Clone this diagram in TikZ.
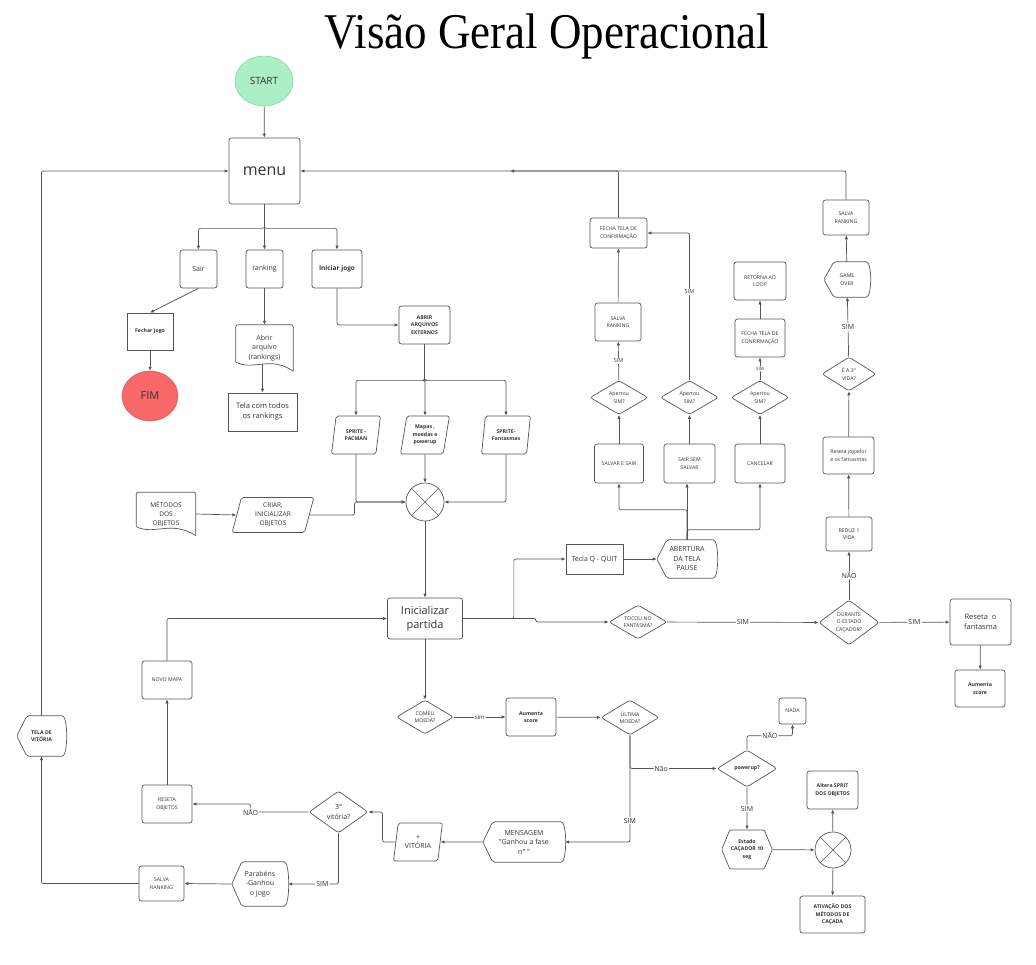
\documentclass[tikz,border=0pt]{standalone}
\usepackage{fontspec}
\setmainfont{Open Sans}
\newfontfamily\titlefont{Liberation Serif}
\usetikzlibrary{shapes.geometric,shapes.symbols,arrows.meta,calc}
\definecolor{linec}{HTML}{555555}
\definecolor{txt}{HTML}{333333}
\definecolor{startfill}{HTML}{ABEFC6}
\definecolor{startline}{HTML}{5DD68F}
\definecolor{fimfill}{HTML}{F96868}
\definecolor{fimline}{HTML}{D94C4C}
% outlines for the document and display symbols
\newcommand\docshape[1]{%
  \draw[line,rounded corners=2pt] ([yshift=9pt]#1.south west) -- (#1.north west) -- (#1.north east) -- (#1.south east);
  \draw[line] (#1.south east) .. controls ([yshift=16pt]$(#1.south east)!0.4!(#1.south west)$) and ([yshift=0pt]$(#1.south east)!0.7!(#1.south west)$) .. ([yshift=9pt]#1.south west);}
\newcommand\dispshape[1]{%
  \draw[line] (#1.west) -- ([xshift=10pt]#1.north west) -- ([xshift=-6pt]#1.north east)
  .. controls ([xshift=2pt]#1.north east) and ([xshift=2pt]#1.south east) .. ([xshift=-6pt]#1.south east)
  -- ([xshift=10pt]#1.south west) -- cycle;}
\begin{document}
\begin{tikzpicture}[x=1pt,y=-1pt,
  line/.style={draw=linec,line width=0.7pt,rounded corners=2pt},
  arr/.style={line,-{Latex[length=4pt,width=3.4pt]}},
  box/.style={draw=linec,line width=0.7pt,rounded corners=2.5pt,align=center,text=txt,inner sep=1pt},
  sbox/.style={box,rounded corners=0pt},
  dia/.style={box,diamond,aspect=1.7,inner sep=0pt},
  para/.style={box,trapezium,trapezium left angle=78,trapezium right angle=102,trapezium stretches=true,rounded corners=2pt},
  disp/.style={align=center,text=txt,inner sep=1pt},
  junction/.style={circle,draw=linec,line width=0.7pt,minimum size=38pt,
    path picture={\draw[linec,line width=0.6pt] (path picture bounding box.north west) -- (path picture bounding box.south east)
      (path picture bounding box.north east) -- (path picture bounding box.south west);}},
  tiny/.style={font=\fontsize{5.2}{7.5}\selectfont},
  tinyb/.style={font=\fontsize{5.2}{7.5}\selectfont\bfseries},
  mid/.style={font=\fontsize{7}{9.5}\selectfont},
  lab/.style={fill=white,inner sep=1pt,text=txt,font=\fontsize{7}{8}\selectfont},
  slab/.style={lab,font=\fontsize{5.5}{6}\selectfont}]
  \useasboundingbox (0,0) rectangle (1036,964);

  \node[anchor=base,xscale=0.9,font=\titlefont\fontsize{50}{56}\selectfont] (title) at (547,48) {Visão Geral Operacional};

  % menu
  \node[ellipse,draw=startline,fill=startfill,minimum width=58pt,minimum height=50pt,text=txt,font=\fontsize{10}{12}\selectfont] (start) at (264,81) {START};
  \node[box,minimum width=71pt,minimum height=66pt,font=\fontsize{16}{18}\selectfont] (menu) at (264.5,171) {menu};
  \node[box,mid,minimum width=37pt,minimum height=38pt] (sair) at (198.5,269) {Sair};
  \node[box,mid,minimum width=37pt,minimum height=38pt] (ranking) at (264.5,269) {ranking};
  \node[box,minimum width=50pt,minimum height=38pt,font=\fontsize{6.5}{8}\selectfont\bfseries] (iniciar) at (337,269) {Iniciar jogo};
  \node[sbox,tinyb,minimum width=46pt,minimum height=37pt] (fechar) at (150,331.5) {Fechar jogo};
  \node[ellipse,draw=fimline,fill=fimfill,minimum width=56pt,minimum height=50pt,text=txt,font=\fontsize{11}{13}\selectfont] (fim) at (150,396) {FIM};
  \node[disp,mid,minimum width=57pt,minimum height=46pt,yshift=2pt] (abrirarq) at (264.5,350) {Abrir\\arquivo\\(rankings)};
  \docshape{abrirarq}
  \node[sbox,font=\fontsize{7.5}{10}\selectfont,minimum width=69pt,minimum height=38pt] (tela) at (262.5,412) {Tela com todos\\os rankings};

  % arquivos externos
  \node[box,tinyb,minimum width=51pt,minimum height=38pt] (abrirext) at (424.5,325) {ABRIR\\ARQUIVOS\\EXTERNOS};
  \node[para,tinyb,minimum width=49pt,minimum height=38pt] (sppac) at (356,435) {SPRITE -\\PACMAN};
  \node[para,tinyb,minimum width=49pt,minimum height=38pt] (spmap) at (425,435) {Mapas ,\\moedas e\\powerup};
  \node[para,tinyb,minimum width=49pt,minimum height=38pt] (spfan) at (506,435) {SPRITE-\\Fantasmas};
  \node[junction] (junc) at (425,502) {};
  \node[disp,font=\fontsize{6.5}{9}\selectfont,minimum width=59pt,minimum height=43pt] (metodos) at (166,514) {MÉTODOS\\DOS\\OBJETOS};
  \docshape{metodos}
  \node[para,font=\fontsize{6.5}{9}\selectfont,minimum width=82pt,minimum height=35pt] (criar) at (273,515) {CRIAR,\\INICIALIZAR\\OBJETOS};
  \node[box,minimum width=75pt,minimum height=41pt,font=\fontsize{11}{14}\selectfont] (inicio) at (425,618.5) {Inicializar\\partida};

  % pausa
  \node[sbox,mid,minimum width=57pt,minimum height=30pt] (teclaq) at (594.5,559) {Tecla Q - QUIT};
  \node[disp,mid,minimum width=60pt,minimum height=38pt] (pausa) at (687,559) {ABERTURA\\DA TELA\\PAUSE};
  \dispshape{pausa}
  \node[box,tiny,minimum width=49pt,minimum height=39pt] (salvarsair) at (619,463.5) {SALVAR E SAIR};
  \node[box,tiny,minimum width=51pt,minimum height=39pt] (sairsem) at (689.5,463.5) {SAIR SEM\\SALVAR};
  \node[box,tiny,minimum width=50pt,minimum height=39pt] (cancelar) at (760,463.5) {CANCELAR};
  \foreach \n/\x in {ap1/619,ap2/689.5,ap3/760}
    \node[dia,tiny,minimum width=58pt,minimum height=34pt] (\n) at (\x,397.5) {Apertou\\SIM?};
  \node[box,tiny,minimum width=46pt,minimum height=38pt] (salvar1) at (618,322) {SALVA\\RANKING};
  \node[box,tiny,minimum width=57pt,minimum height=30pt] (fecha1) at (618.5,233) {FECHA TELA DE\\CONFIRMAÇÃO};
  \node[box,tiny,minimum width=50pt,minimum height=38pt] (fecha2) at (760,338) {FECHA TELA DE\\CONFIRMAÇÃO};
  \node[box,tiny,minimum width=52pt,minimum height=38pt] (retorna) at (760,281) {RETORNA AO\\LOOP};

  % fantasma
  \node[dia,tiny,minimum width=58pt,minimum height=34pt] (tocou) at (638,622) {TOCOU NO\\FANTASMA?};
  \node[dia,tiny,minimum width=60pt,minimum height=45pt] (durante) at (849,622.5) {DURANTE\\O ESTADO\\CAÇADOR?};
  \node[box,font=\fontsize{7.5}{10}\selectfont,minimum width=61pt,minimum height=46pt] (resetaf) at (980.5,622) {Reseta~ o\\fantasma};
  \node[box,tinyb,minimum width=50pt,minimum height=37pt] (aumenta1) at (980,688.5) {Aumenta\\score};
  \node[box,tiny,minimum width=46pt,minimum height=34pt] (reduz) at (849,534) {REDUZ 1\\VIDA};
  \node[box,tiny,minimum width=51pt,minimum height=37pt] (resetaj) at (848.5,455.5) {Reseta jogador\\e os fantasmas};
  \node[dia,tiny,minimum width=54pt,minimum height=34pt] (terceira) at (849,374) {É A 3°\\VIDA?};
  \node[disp,tiny,minimum width=46pt,minimum height=35pt] (gameover) at (847,279.5) {GAME\\OVER};
  \dispshape{gameover}
  \node[box,tiny,minimum width=46pt,minimum height=35pt] (salvar2) at (846,217.5) {SALVA\\RANKING};
  \coordinate (rankret) at (510,171);

  % moedas
  \node[dia,tiny,minimum width=57pt,minimum height=34pt] (comeu) at (425,717) {COMEU\\MOEDA?};
  \node[box,tinyb,minimum width=50pt,minimum height=38pt] (aumenta2) at (531,717) {Aumenta\\score};
  \node[dia,tiny,minimum width=58pt,minimum height=35pt] (ultima) at (630,717.5) {ÚLTIMA\\MOEDA?};
  \node[dia,tinyb,minimum width=60pt,minimum height=37pt] (powerup) at (747,768.5) {powerup?};
  \node[box,tiny,minimum width=27pt,minimum height=26pt] (nada) at (792.5,711) {NADA};
  \node[box,tinyb,signal,signal to=west and east,signal pointer angle=135,rounded corners=1pt,minimum width=50pt,minimum height=39pt] (estado) at (747,849.5) {Estado\\CAÇADOR 10\\seg};
  \node[junction,minimum size=36pt] (junc2) at (833,850) {};
  \node[box,tinyb,minimum width=51pt,minimum height=38pt] (altera) at (832.5,790) {Altera SPRIT\\DOS OBJETOS};
  \node[box,tinyb,minimum width=65pt,minimum height=37pt] (ativa) at (832.5,914.5) {ATIVAÇÃO DOS\\MÉTODOS DE\\CAÇADA};

  % vitoria
  \node[disp,mid,minimum width=82pt,minimum height=40pt] (mensagem) at (524,842) {MENSAGEM\\"Ganhou a fase\\n° "};
  \dispshape{mensagem}
  \node[para,mid,minimum width=49pt,minimum height=38pt] (vitoria) at (418,842) {+\\VITÓRIA};
  \node[dia,mid,minimum width=59pt,minimum height=42pt] (terceiravit) at (338.5,812) {3°\\vitória?};
  \node[disp,mid,minimum width=56pt,minimum height=44pt] (parabens) at (260,884) {Parabéns\\-Ganhou\\o jogo};
  \dispshape{parabens}
  \node[box,tiny,minimum width=45pt,minimum height=35pt] (salvar3) at (161.5,883.5) {SALVA\\RANKING};
  \node[box,tiny,minimum width=50pt,minimum height=38pt] (resetao) at (167,804) {RESETA\\OBJETOS};
  \node[box,tiny,minimum width=50pt,minimum height=38pt] (novomapa) at (167,680) {NOVO MAPA};
  \node[disp,tinyb,minimum width=49pt,minimum height=40pt] (telavit) at (41.5,736) {TELA DE\\VITÓRIA};
  \dispshape{telavit}

  % connectors
  \draw[arr] (start) -- (menu);
  \foreach \n in {sair,ranking,iniciar}
    \draw[arr] (menu.south) -- ++(0,24) -| (\n.north);
  \draw[arr] (sair.south) -- (fechar.north);
  \draw[arr] (fechar) -- (fim);
  \draw[arr] (ranking) -- (abrirarq.north);
  \draw[arr] ([yshift=7pt]tela.north |- abrirarq.south) -- (tela.north);
  \draw[arr] (iniciar.south) |- (abrirext.west);
  \foreach \n in {sppac,spmap,spfan}
    \draw[arr] (abrirext.south) -- ++(0,36) -| (\n.north);
  \draw[arr] (sppac.south) |- (junc.west);
  \draw[arr] (spfan.south) |- (junc.east);
  \draw[arr] (spmap) -- (junc);
  \draw[arr] (metodos.east) -- (criar.west);
  \draw[arr] (criar.east) -- ++(45,0) |- (junc.west);
  \draw[arr] (junc) -- (inicio);

  \draw[arr] (inicio.east) -- ++(51,0) |- (teclaq.west);
  \draw[arr] (inicio.east) -- ++(73,0) |- (tocou.west);
  \draw[arr] (teclaq) -- (pausa.west);
  \draw[arr] (pausa.north) -- (pausa.north |- sairsem.south);
  \draw[arr] (pausa.north) -- ++(0,-10) -| (cancelar.south);
  \draw[arr] (pausa.north) -- ++(0,-30) -| (salvarsair.south);
  \foreach \a/\b in {salvarsair/ap1,sairsem/ap2,cancelar/ap3}
    \draw[arr] (\a) -- (\b);
  \draw[arr] (ap1) -- node[slab]{SIM} (salvar1);
  \draw[arr] (salvar1) -- (fecha1);
  \draw[arr] (ap2.north) |- node[slab,pos=0.3]{SIM} (fecha1.east);
  \draw[arr] (ap3) -- node[slab,font=\fontsize{4.5}{5}\selectfont]{SIM} (fecha2);
  \draw[arr] (fecha2) -- (retorna);
  \draw[arr] (fecha1.north) |- (menu.east);

  \draw[arr] (tocou) -- node[lab]{SIM} (durante);
  \draw[arr] (durante) -- node[lab]{SIM} (resetaf);
  \draw[arr] (resetaf) -- (aumenta1);
  \draw[arr] (durante) -- node[lab]{NÃO} (reduz);
  \draw[arr] (reduz) -- (resetaj);
  \draw[arr] (resetaj) -- (terceira);
  \draw[arr] (terceira) -- node[lab]{SIM} (gameover);
  \draw[arr] (gameover) -- (salvar2);
  \draw[arr] (salvar2.north) |- (rankret);

  \draw[arr] (inicio) -- (comeu);
  \draw[arr] (comeu) -- node[lab,font=\fontsize{6}{7}\selectfont]{sim} (aumenta2);
  \draw[arr] (aumenta2) -- (ultima);
  \draw[arr] (ultima.south) |- node[lab,pos=0.68]{Não} (powerup.west);
  \draw[arr] (ultima.south) |- node[lab,pos=0.4]{SIM} (mensagem.east);
  \draw[arr] (powerup.north) -- ++(0,-14) -| node[lab,pos=0.25]{NÃO} (nada.south);
  \draw[arr] (powerup) -- node[lab]{SIM} (estado);
  \draw[arr] (estado) -- (junc2);
  \draw[arr] (junc2) -- (altera);
  \draw[arr] (junc2) -- (ativa);

  \draw[arr] (mensagem.west) -- (vitoria.east);
  \draw[arr] (vitoria.west) -- ++(-13,0) |- (terceiravit.east);
  \draw[arr] (terceiravit.west) -- ++(-58,0) node[lab]{NÃO} |- (resetao.east);
  \draw[arr] (terceiravit.south) |- node[lab,pos=0.66]{SIM} (parabens.east);
  \draw[arr] (parabens.west) -- (salvar3.east);
  \draw[arr] (salvar3.west) -| (telavit.south);
  \draw[arr] (telavit.north) |- (menu.west);
  \draw[arr] (resetao) -- (novomapa);
  \draw[arr] (novomapa.north) |- (inicio.west);
\end{tikzpicture}
\end{document}
